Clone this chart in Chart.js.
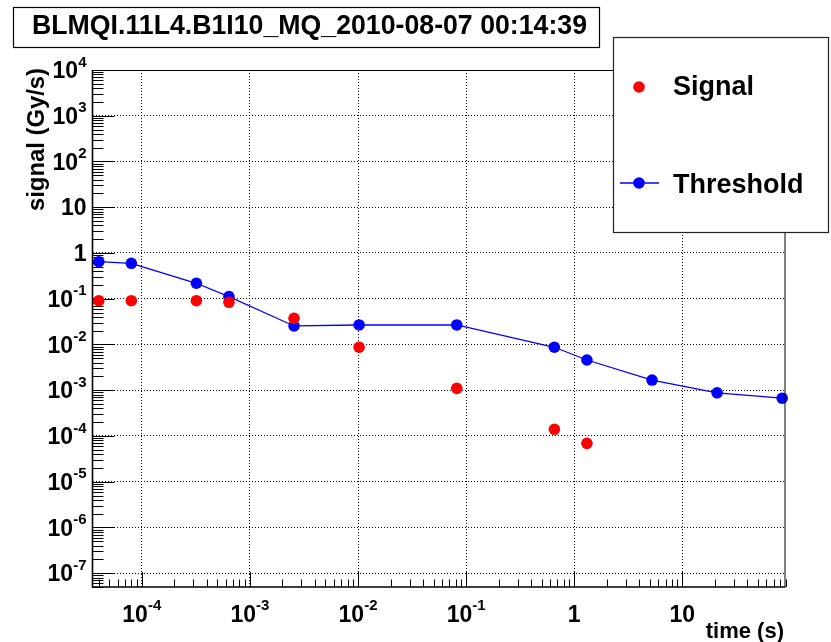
<!DOCTYPE html>
<html><head><meta charset="utf-8">
<script src="https://cdn.jsdelivr.net/npm/chart.js@4.4.0/dist/chart.umd.min.js"></script>
<style>html,body{margin:0;padding:0;background:#fff;overflow:hidden}#wrap{width:831px;height:642px;position:relative}</style>
</head><body><div id="wrap"><canvas id="c" width="831" height="642"></canvas></div>
<script>
const chartTitle = 'BLMQI.11L4.B1I10_MQ_2010-08-07 00:14:39';
const xAxisTitle = 'time (s)';
const yAxisTitle = 'signal (Gy/s)';
// running-sum integration times (s)
const times = [4e-5, 8e-5, 3.2e-4, 6.4e-4, 2.56e-3, 1.024e-2, 8.192e-2, 0.65536, 1.31072, 5.24288, 20.97152, 83.88608];
const thresholdValues = [0.645, 0.596, 0.218, 0.111, 0.0254, 0.0267, 0.0267, 0.0087, 0.00458, 0.00167, 0.00088, 0.00067];
const signalTimes = [4e-5, 8e-5, 3.2e-4, 6.4e-4, 2.56e-3, 1.024e-2, 8.192e-2, 0.65536, 1.31072];
const signalValues = [0.0906, 0.0906, 0.0906, 0.0836, 0.0374, 0.0087, 0.0011, 0.00014, 0.000069];
const xTickValues = [1e-4, 1e-3, 1e-2, 1e-1, 1, 10];
const xTickLabels = ['10^-4', '10^-3', '10^-2', '10^-1', '1', '10'];
const yTickValues = [1e-7, 1e-6, 1e-5, 1e-4, 1e-3, 1e-2, 1e-1, 1, 10, 100, 1000, 10000];
const yTickLabels = ['10^-7', '10^-6', '10^-5', '10^-4', '10^-3', '10^-2', '10^-1', '1', '10', '10^2', '10^3', '10^4'];
const xRange = [3.5e-5, 90];
const yRange = [5e-8, 1e4];

const FONT = '"Liberation Sans", Arial, Helvetica, sans-serif';

function logTicks(min, max) {
  const out = [];
  for (let e = Math.floor(Math.log10(min)); e <= Math.ceil(Math.log10(max)); e++) {
    for (let k = 1; k <= 9; k++) {
      const v = k * Math.pow(10, e);
      if (v >= min * 0.9999 && v <= max * 1.0001) out.push({ v, major: k === 1 });
    }
  }
  return out;
}

function drawPow(ctx, label, x, baseline, align) {
  const parts = label.split('^');
  const mainF = 'bold 23px ' + FONT, supF = 'bold 15px ' + FONT;
  ctx.font = mainF;
  const wb = ctx.measureText(parts[0]).width;
  let we = 0;
  if (parts[1]) { ctx.font = supF; we = ctx.measureText(parts[1]).width; }
  const total = wb + we;
  const x0 = align === 'center' ? x - total / 2 : x - total;
  ctx.textAlign = 'left'; ctx.textBaseline = 'alphabetic'; ctx.fillStyle = '#000';
  ctx.font = mainF; ctx.fillText(parts[0], x0, baseline);
  if (parts[1]) { ctx.font = supF; ctx.fillText(parts[1], x0 + wb, baseline - 11.5); }
}

const axesPlugin = {
  id: 'rootAxes',
  beforeDatasetsDraw(chart) {
    const ctx = chart.ctx, a = chart.chartArea, xs = chart.scales.x, ys = chart.scales.y;
    ctx.save();
    ctx.strokeStyle = '#000'; ctx.lineWidth = 1;
    ctx.beginPath();
    logTicks(xRange[0], xRange[1]).forEach(t => {
      const px = Math.round(xs.getPixelForValue(t.v)) + 0.5;
      ctx.moveTo(px, a.bottom); ctx.lineTo(px, a.bottom - (t.major ? 15 : 7.5));
    });
    logTicks(yRange[0], yRange[1]).forEach(t => {
      const py = Math.round(ys.getPixelForValue(t.v)) + 0.5;
      ctx.moveTo(a.left, py); ctx.lineTo(a.left + (t.major ? 22 : 11), py);
    });
    ctx.stroke();
    ctx.restore();
  },
  afterDraw(chart) {
    const ctx = chart.ctx, a = chart.chartArea, xs = chart.scales.x, ys = chart.scales.y;
    ctx.save();
    // frame
    ctx.strokeStyle = '#000';
    ctx.lineWidth = 1;
    ctx.beginPath();
    ctx.moveTo(a.left, a.top + 0.5); ctx.lineTo(a.right, a.top + 0.5);
    ctx.moveTo(a.right - 0.5, a.top); ctx.lineTo(a.right - 0.5, a.bottom);
    ctx.stroke();
    ctx.lineWidth = 1.6;
    ctx.beginPath();
    ctx.moveTo(a.left, a.top); ctx.lineTo(a.left, a.bottom); ctx.lineTo(a.right, a.bottom);
    ctx.stroke();
    // tick labels
    xTickValues.forEach((v, i) => drawPow(ctx, xTickLabels[i], xs.getPixelForValue(v), a.bottom + 34.7, 'center'));
    yTickValues.forEach((v, i) => drawPow(ctx, yTickLabels[i], 86.5, ys.getPixelForValue(v) + 8.2, 'right'));
    // axis titles
    ctx.fillStyle = '#000';
    ctx.font = 'bold 22px ' + FONT;
    ctx.textAlign = 'right'; ctx.textBaseline = 'alphabetic';
    ctx.fillText(xAxisTitle, 784, 637.5);
    ctx.save();
    ctx.translate(43.5, 68);
    ctx.rotate(-Math.PI / 2);
    ctx.font = 'bold 23px ' + FONT;
    const yw = ctx.measureText(yAxisTitle).width;
    ctx.scale(143 / yw, 1);
    ctx.textAlign = 'right';
    ctx.fillText(yAxisTitle, 0, 0);
    ctx.restore();
    // title box
    ctx.fillStyle = '#fff';
    ctx.fillRect(13.5, 7.5, 586, 40);
    ctx.strokeStyle = '#000'; ctx.lineWidth = 1.2;
    ctx.strokeRect(13.5, 7.5, 586, 40);
    ctx.fillStyle = '#000';
    ctx.font = 'bold 28px ' + FONT;
    ctx.textAlign = 'left';
    const tw = ctx.measureText(chartTitle).width;
    ctx.save();
    ctx.translate(32, 33.5);
    ctx.scale(555 / tw, 1);
    ctx.fillText(chartTitle, 0, 0);
    ctx.restore();
    // legend
    ctx.fillStyle = '#fff';
    ctx.fillRect(613.5, 37.5, 215, 195);
    ctx.strokeStyle = '#222'; ctx.lineWidth = 1.2;
    ctx.strokeRect(613.5, 37.5, 215, 195);
    const ds = chart.data.datasets;
    const rows = [{ y: 87, base: 95 }, { y: 183, base: 193.3 }];
    ds.forEach((d, i) => {
      const r = rows[i];
      if (d.showLine) {
        ctx.strokeStyle = d.borderColor; ctx.lineWidth = d.borderWidth;
        ctx.beginPath(); ctx.moveTo(620, r.y); ctx.lineTo(659, r.y); ctx.stroke();
      }
      ctx.fillStyle = d.pointBackgroundColor;
      ctx.beginPath(); ctx.arc(639, r.y, d.pointRadius, 0, Math.PI * 2); ctx.fill();
      ctx.fillStyle = '#000';
      ctx.font = 'bold 27px ' + FONT;
      ctx.textAlign = 'left';
      ctx.fillText(d.label, 673, r.base);
    });
    ctx.restore();
  }
};

new Chart(document.getElementById('c').getContext('2d'), {
  type: 'scatter',
  data: {
    datasets: [
      {
        label: 'Signal',
        data: signalTimes.map((t, i) => ({ x: t, y: signalValues[i] })),
        showLine: false,
        pointRadius: 5.8, pointBorderWidth: 0,
        pointBackgroundColor: '#ff0000', pointBorderColor: '#ff0000',
        backgroundColor: '#ff0000', borderColor: '#ff0000',
        clip: false
      },
      {
        label: 'Threshold',
        data: times.map((t, i) => ({ x: t, y: thresholdValues[i] })),
        showLine: true, tension: 0,
        borderColor: '#0000ff', borderWidth: 1.3,
        pointRadius: 5.8, pointBorderWidth: 0,
        pointBackgroundColor: '#0000ff', pointBorderColor: '#0000ff',
        backgroundColor: '#0000ff',
        clip: false
      }
    ]
  },
  options: {
    responsive: false,
    animation: false,
    layout: { padding: { left: 92.5, right: 45.5, top: 70, bottom: 55 } },
    plugins: { legend: { display: false }, tooltip: { enabled: false }, title: { display: false } },
    scales: {
      x: {
        type: 'logarithmic', min: xRange[0], max: xRange[1], position: 'bottom',
        afterBuildTicks: s => { s.ticks = xTickValues.map(v => ({ value: v })); },
        afterFit: s => { s.height = 0; },
        ticks: { display: false },
        grid: { color: '#000', lineWidth: 1, drawTicks: false },
        border: { display: false, dash: [1, 2] }
      },
      y: {
        type: 'logarithmic', min: yRange[0], max: yRange[1], position: 'left',
        afterBuildTicks: s => { s.ticks = yTickValues.map(v => ({ value: v })); },
        afterFit: s => { s.width = 0; },
        ticks: { display: false },
        grid: { color: '#000', lineWidth: 1, drawTicks: false },
        border: { display: false, dash: [1, 2] }
      }
    }
  },
  plugins: [axesPlugin]
});
</script>
</body></html>
